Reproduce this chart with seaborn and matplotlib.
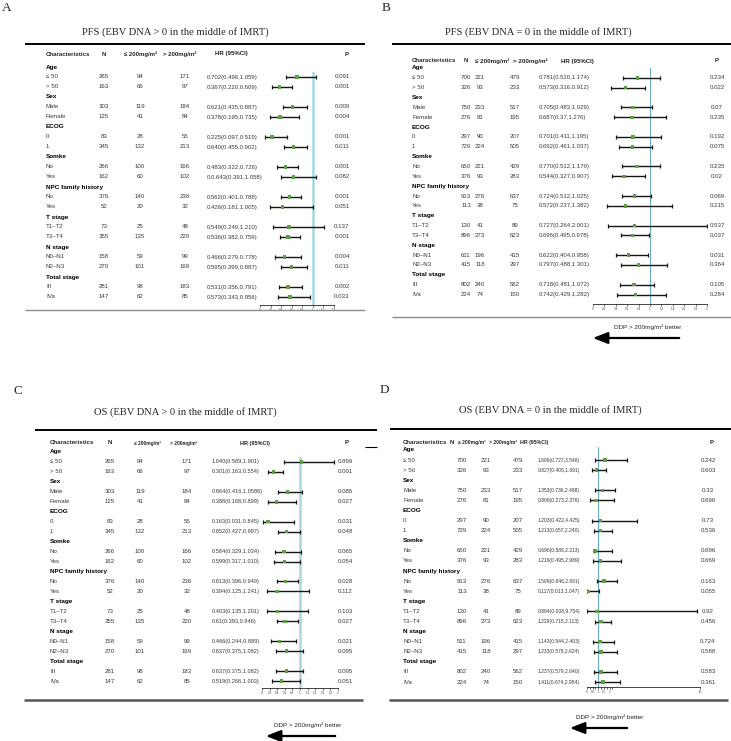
import numpy as np
import pandas as pd
import matplotlib
matplotlib.use('Agg')
import matplotlib.pyplot as plt
import seaborn as sns
from matplotlib.lines import Line2D
from matplotlib.patches import FancyArrowPatch
from matplotlib.transforms import blended_transform_factory

W, H = 731, 741

# ---- table rows shared by all four panels ----
row_labels = ['Age', '≤ 50', '> 50', 'Sex', 'Male', 'Female', 'ECOG', '0', '1',
              'Somke', 'No', 'Yes', 'NPC family history', 'No', 'Yes',
              'T stage', 'T1–T2', 'T3–T4', 'N stage', 'N0–N1', 'N2–N3',
              'Total stage', 'III', 'IVa']
group_rows = [0, 3, 6, 9, 12, 15, 18, 21]
sub_rows = [i for i in range(len(row_labels)) if i not in group_rows]

headers = ['Characteristics', 'N', '≤ 200mg/m²', '> 200mg/m²', 'HR (95%CI)', 'P']

# ---- A: PFS, EBV DNA > 0 ----
a_n = [265, 163, 303, 125, 83, 345, 266, 162, 376, 52, 73, 355, 158, 270, 281, 147]
a_le = [94, 66, 119, 41, 28, 132, 100, 60, 140, 20, 25, 135, 59, 101, 98, 62]
a_gt = [171, 97, 184, 84, 55, 213, 166, 102, 236, 32, 48, 220, 99, 169, 183, 85]
a_hr = [0.702, 0.367, 0.621, 0.378, 0.225, 0.640, 0.483, 0.643, 0.562, 0.426, 0.549, 0.536, 0.466, 0.595, 0.531, 0.573]
a_lo = [0.496, 0.220, 0.435, 0.195, 0.097, 0.455, 0.322, 0.391, 0.401, 0.181, 0.249, 0.382, 0.279, 0.399, 0.356, 0.343]
a_hi = [1.059, 0.609, 0.887, 0.735, 0.519, 0.902, 0.726, 1.058, 0.788, 1.005, 1.210, 0.759, 0.778, 0.887, 0.791, 0.956]
a_hr_text = ['0.702(0.496,1.059)', '0.367(0.220,0.609)', '0.621(0.435,0.887)', '0.378(0.195,0.735)',
             '0.225(0.097,0.519)', '0.640(0.455,0.902)', '0.483(0.322,0.726)', '0.0.643(0.391,1.058)',
             '0.562(0.401,0.788)', '0.426(0.181,1.005)', '0.549(0.249,1.210)', '0.536(0.382,0.759)',
             '0.466(0.279,0.778)', '0.595(0.399,0.887)', '0.531(0.356,0.791)', '0.573(0.343,0.956)']
a_p = ['0.091', '0.001', '0.009', '0.004', '0.001', '0.011', '0.001', '0.082',
       '0.001', '0.051', '0.137', '0.001', '0.004', '0.011', '0.002', '0.033']
a_ticks = [0, 0.2, 0.4, 0.6, 0.8, 1, 1.2, 1.4]
a_ticklabels = ['0', '0.2', '0.4', '0.6', '0.8', '1', '1.2', '1.4']

# ---- B: PFS, EBV DNA = 0 ----
b_n = [700, 326, 750, 276, 297, 729, 650, 376, 913, 113, 130, 896, 611, 415, 802, 224]
b_le = [221, 93, 233, 81, 90, 224, 221, 93, 276, 38, 41, 273, 196, 118, 240, 74]
b_gt = [479, 233, 517, 195, 207, 505, 429, 283, 637, 75, 89, 623, 415, 297, 562, 150]
b_hr = [0.781, 0.573, 0.705, 0.687, 0.701, 0.692, 0.770, 0.544, 0.724, 0.572, 0.727, 0.696, 0.622, 0.797, 0.718, 0.742]
b_lo = [0.520, 0.316, 0.483, 0.37, 0.411, 0.461, 0.512, 0.327, 0.512, 0.237, 0.264, 0.495, 0.404, 0.488, 0.481, 0.429]
b_hi = [1.174, 0.912, 1.029, 1.276, 1.195, 1.037, 1.179, 0.907, 1.025, 1.382, 2.001, 0.978, 0.958, 1.301, 1.072, 1.282]
b_hr_text = ['0.781(0.520,1.174)', '0.573(0.316,0.912)', '0.705(0.483,1.029)', '0.687(0.37,1.276)',
             '0.701(0.411,1.195)', '0.692(0.461,1.037)', '0.770(0.512,1.179)', '0.544(0.327,0.907)',
             '0.724(0.512,1.025)', '0.572(0.237,1.382)', '0.727(0.264,2.001)', '0.696(0.495,0.978)',
             '0.622(0.404,0.958)', '0.797(0.488,1.301)', '0.718(0.481,1.072)', '0.742(0.429,1.282)']
b_p = ['0.234', '0.022', '0.07', '0.235', '0.192', '0.075', '0.235', '0.02',
       '0.069', '0.215', '0.537', '0.037', '0.031', '0.364', '0.105', '0.284']
b_ticks = [0, 0.2, 0.4, 0.6, 0.8, 1, 1.2, 1.4, 1.6, 1.8, 2]
b_ticklabels = ['0', '0.2', '0.4', '0.6', '0.8', '1', '1.2', '1.4', '1.6', '1.8', '2']

# ---- C: OS, EBV DNA > 0 ----
c_n = [265, 163, 303, 125, 83, 345, 266, 162, 376, 52, 73, 355, 158, 270, 281, 147]
c_le = [94, 66, 119, 41, 28, 132, 100, 60, 140, 20, 25, 135, 59, 101, 98, 62]
c_gt = [171, 97, 184, 84, 55, 213, 166, 102, 236, 32, 48, 220, 99, 169, 183, 85]
c_hr = [1.040, 0.301, 0.664, 0.388, 0.163, 0.652, 0.584, 0.599, 0.613, 0.394, 0.403, 0.61, 0.466, 0.637, 0.637, 0.519]
c_lo = [0.569, 0.163, 0.416, 0.168, 0.031, 0.427, 0.329, 0.317, 0.396, 0.125, 0.135, 0.393, 0.244, 0.375, 0.375, 0.266]
c_hi = [1.901, 0.554, 1.0586, 0.899, 0.845, 0.997, 1.034, 1.010, 0.949, 1.241, 1.201, 0.946, 0.889, 1.082, 1.082, 1.003]
c_hr_text = ['1.040(0.569,1.901)', '0.301(0.163,0.554)', '0.664(0.416,1.0586)', '0.388(0.168,0.899)',
             '0.163(0.031,0.845)', '0.652(0.427,0.997)', '0.584(0.329,1.034)', '0.599(0.317,1.010)',
             '0.613(0.396,0.949)', '0.394(0.125,1.241)', '0.403(0.135,1.201)', '0.61(0.393,0.946)',
             '0.466(0.244,0.889)', '0.637(0.375,1.082)', '0.637(0.375,1.082)', '0.519(0.266,1.003)']
c_p = ['0.899', '0.001', '0.085', '0.027', '0.031', '0.048', '0.065', '0.054',
       '0.028', '0.112', '0.103', '0.027', '0.021', '0.095', '0.095', '0.051']
c_ticks = b_ticks
c_ticklabels = b_ticklabels

# ---- D: OS, EBV DNA = 0 ----
d_n = [700, 326, 750, 276, 297, 729, 650, 376, 913, 113, 130, 896, 511, 415, 802, 224]
d_le = [221, 93, 233, 81, 90, 224, 221, 93, 276, 38, 41, 273, 196, 118, 240, 74]
d_gt = [479, 233, 517, 195, 207, 505, 429, 283, 637, 75, 89, 623, 415, 297, 562, 150]
d_hr = [1.606, 0.827, 1.353, 0.806, 1.203, 1.213, 0.696, 1.216, 1.509, 0.117, 0.884, 1.229, 1.143, 1.233, 1.237, 1.411]
d_lo = [0.727, 0.405, 0.736, 0.273, 0.422, 0.657, 0.588, 0.495, 0.846, 0.013, 0.008, 0.715, 0.544, 0.578, 0.579, 0.674]
d_hi = [3.548, 1.691, 2.488, 2.376, 4.425, 2.240, 2.213, 2.989, 2.691, 1.047, 9.754, 2.113, 2.403, 2.624, 2.640, 2.954]
d_hr_text = ['1.606(0.727,3.548)', '0.827(0.405,1.691)', '1.353(0.736,2.488)', '0.806(0.273,2.376)',
             '1.203(0.422,4.425)', '1.213(0.657,2.240)', '0.696(0.588,2.213)', '1.216(0.495,2.989)',
             '1.509(0.846,2.691)', '0.117(0.013,1.047)', '0.884(0.008,9.754)', '1.229(0.715,2.113)',
             '1.143(0.544,2.403)', '1.233(0.578,2.624)', '1.237(0.579,2.640)', '1.411(0.674,2.954)']
d_p = ['0.242', '0.603', '0.33', '0.696', '0.73', '0.536', '0.696', '0.669',
       '0.163', '0.055', '0.92', '0.456', '0.724', '0.588', '0.583', '0.361']
d_ticks = [0, 0.25, 0.5, 0.75, 1, 1.25, 1.5, 1.75, 2, 2.25, 10]
d_ticklabels = ['0', '', '0.5', '', '1', '', '1.5', '', '2', '', '10']

sns.set_style('white')
plt.rcParams['font.family'] = ['Liberation Sans', 'DejaVu Sans']

SERIF = ['Liberation Serif', 'DejaVu Serif']
GREEN = '#5f9e45'
TXT = '#3a3a3a'


def fx(px):
    return px / W


def fy(py):
    return 1 - py / H


def hline(fig, x1, x2, y, color='black', lw=1.5):
    fig.add_artist(Line2D([fx(x1), fx(x2)], [fy(y), fy(y)], transform=fig.transFigure,
                          color=color, lw=lw, solid_capstyle='butt'))


def draw_panel(fig, lay, title, letter, n, le, gt, hr, lo, hi, hr_text, p, ticks, ticklabels):
    y0, dy = lay['y0'], lay['dy']
    top_px = y0 + lay['ytop'] * dy
    bot_px = lay['axis_y']
    width = lay['xmax'] * lay['scale']
    ax = fig.add_axes([fx(lay['x0']), fy(bot_px), width / W, (bot_px - top_px) / H])
    ax.patch.set_alpha(0)
    ax.set_xlim(0, lay['xmax'])
    ax.set_ylim((bot_px - y0) / dy, lay['ytop'])

    df = pd.DataFrame({'row': sub_rows, 'hr': hr, 'lo': lo, 'hi': hi})
    ax.axvline(1, color=lay['vcol'], lw=lay['vlw'], zorder=1)
    ax.errorbar(df['hr'], df['row'], xerr=[df['hr'] - df['lo'], df['hi'] - df['hr']],
                fmt='none', ecolor='#151515', elinewidth=1.0, capsize=1.6, capthick=0.9, zorder=2)
    sns.scatterplot(data=df, x='hr', y='row', marker='s', s=6, color=GREEN,
                    edgecolor='none', ax=ax, zorder=3, legend=False)
    ax.set_xlabel('')
    ax.set_ylabel('')
    ax.set_yticks([])
    ax.set_xticks(ticks)
    ax.set_xticklabels(ticklabels, fontsize=2.2, color='#444444')
    ax.tick_params(axis='x', length=1.5, width=0.5, pad=0.8, bottom=True)
    sns.despine(ax=ax, left=True)
    ax.spines['bottom'].set_linewidth(0.6)

    trans = blended_transform_factory(fig.transFigure, ax.transData)
    fs = 4.4
    mfs = lay['mg_fs']
    # header
    hy = (lay['hdr_y'] - y0) / dy
    hc = lay['hdr_cols']
    ax.text(fx(lay['label_x']), hy, headers[0], transform=trans, fontsize=fs, weight='bold', va='center', ha='left')
    ax.text(fx(hc[0]), hy, headers[1], transform=trans, fontsize=fs, weight='bold', va='center', ha='center')
    ax.text(fx(hc[1]), hy, headers[2], transform=trans, fontsize=mfs, weight='bold', va='center', ha='center')
    ax.text(fx(hc[2]), hy, headers[3], transform=trans, fontsize=mfs, weight='bold', va='center', ha='center')
    ax.text(fx(hc[3]), hy, headers[4], transform=trans, fontsize=lay['hrh_fs'], weight='bold', va='center', ha='left')
    ax.text(fx(hc[4]), hy, headers[5], transform=trans, fontsize=fs, weight='bold', va='center', ha='center')

    # row labels
    for r, lab in enumerate(row_labels):
        bold = r in group_rows
        ax.text(fx(lay['label_x']), r, lab, transform=trans, fontsize=fs + (0.2 if bold else 0),
                weight='bold' if bold else 'normal', color='black' if bold else TXT,
                va='center', ha='left')

    vc = lay['val_cols']
    for i, r in enumerate(sub_rows):
        ax.text(fx(vc[0]), r, str(n[i]), transform=trans, fontsize=fs, color=TXT, va='center', ha='center')
        ax.text(fx(vc[1]), r, str(le[i]), transform=trans, fontsize=fs, color=TXT, va='center', ha='center')
        ax.text(fx(vc[2]), r, str(gt[i]), transform=trans, fontsize=fs, color=TXT, va='center', ha='center')
        ax.text(fx(vc[3]), r, hr_text[i], transform=trans, fontsize=lay['hr_fs'], color=TXT, va='center', ha='left')
        ax.text(fx(vc[4]), r, p[i], transform=trans, fontsize=fs, color=TXT, va='center', ha='center')

    # rules, title, letter
    x1, x2, yl = lay['top_line']
    hline(fig, x1, x2, yl, 'black', 1.4)
    x1, x2, yl, col, lw = lay['bottom_line']
    hline(fig, x1, x2, yl, col, lw)
    fig.text(fx(lay['title'][0]), fy(lay['title'][1]), title, family=SERIF, fontsize=7.6,
             ha='center', va='center')
    fig.text(fx(lay['letter'][0]), fy(lay['letter'][1]), letter, family=SERIF, fontsize=9.5,
             ha='center', va='center')

    if lay.get('arrow'):
        tx, ty, ay, ax1, ax2 = lay['arrow']
        fig.text(fx(tx), fy(ty), 'DDP > 200mg/m² better', fontsize=4.6,
                 family=['Liberation Sans Narrow', 'Liberation Sans', 'DejaVu Sans'],
                 ha='center', va='center')
        fig.add_artist(FancyArrowPatch((fx(ax1), fy(ay)), (fx(ax2), fy(ay)), transform=fig.transFigure,
                                       arrowstyle='-|>,head_length=0.9,head_width=0.35',
                                       mutation_scale=10, lw=1.6, color='black'))
    return ax


lay_a = dict(y0=67, dy=10, ytop=0.5, axis_y=305, x0=260, scale=52.5, xmax=1.4,
             vcol='#a9d7e1', vlw=1.8, label_x=46, hdr_y=54, mg_fs=4.3, hrh_fs=4.4,
             hdr_cols=[104, 140, 180, 215, 347], val_cols=[104, 140, 185, 207, 342], hr_fs=4.3,
             top_line=(25, 365, 44), bottom_line=(25, 365, 310, '#8c8c8c', 1.0),
             title=(175, 32), letter=(7, 8), arrow=None)
lay_b = dict(y0=68, dy=9.85, ytop=0.0, axis_y=304, x0=593, scale=57, xmax=2,
             vcol='#6aaec0', vlw=0.8, label_x=412, hdr_y=61, mg_fs=4.5, hrh_fs=4.4,
             hdr_cols=[466, 492, 530, 561, 717], val_cols=[466, 480, 515, 539, 717], hr_fs=4.3,
             top_line=(392, 731, 44), bottom_line=(392, 731, 317, '#8c8c8c', 1.0),
             title=(538, 32), letter=(386, 8), arrow=(648, 327, 338, 682, 590))
lay_c = dict(y0=452, dy=9.96, ytop=0.5, axis_y=688, x0=262, scale=38, xmax=2,
             vcol='#a9d7e1', vlw=1.8, label_x=50, hdr_y=443, mg_fs=3.5, hrh_fs=4.0,
             hdr_cols=[110, 148, 184, 240, 347], val_cols=[110, 140, 187, 212, 345], hr_fs=4.1,
             top_line=(35, 377, 430), bottom_line=(24, 363, 700, '#555555', 1.8),
             title=(185, 412), letter=(18, 391), arrow=(308, 725, 736, 338, 263))
lay_d = dict(y0=450, dy=10.09, ytop=-0.3, axis_y=687, x0=587, scale=11.3, xmax=10,
             vcol='#6aaec0', vlw=0.8, label_x=403, hdr_y=443, mg_fs=3.6, hrh_fs=3.8,
             hdr_cols=[452, 472, 503, 520, 712], val_cols=[462, 486, 518, 538, 708], hr_fs=3.6,
             top_line=(390, 731, 429), bottom_line=(389, 728, 700, '#555555', 1.8),
             title=(550, 410), letter=(384, 390), arrow=(610, 717, 728, 630, 567))

fig = plt.figure(figsize=(W / 100, H / 100), dpi=100)
draw_panel(fig, lay_a, 'PFS (EBV DNA > 0 in the middle of IMRT)', 'A',
           a_n, a_le, a_gt, a_hr, a_lo, a_hi, a_hr_text, a_p, a_ticks, a_ticklabels)
draw_panel(fig, lay_b, 'PFS (EBV DNA = 0 in the middle of IMRT)', 'B',
           b_n, b_le, b_gt, b_hr, b_lo, b_hi, b_hr_text, b_p, b_ticks, b_ticklabels)
draw_panel(fig, lay_c, 'OS (EBV DNA > 0 in the middle of IMRT)', 'C',
           c_n, c_le, c_gt, c_hr, c_lo, c_hi, c_hr_text, c_p, c_ticks, c_ticklabels)
draw_panel(fig, lay_d, 'OS (EBV DNA = 0 in the middle of IMRT)', 'D',
           d_n, d_le, d_gt, d_hr, d_lo, d_hi, d_hr_text, d_p, d_ticks, d_ticklabels)
# short stub of a rule that shows at the left edge of panel D
hline(fig, 365, 377, 447, 'black', 0.8)

fig.savefig('out.png', dpi=100)
